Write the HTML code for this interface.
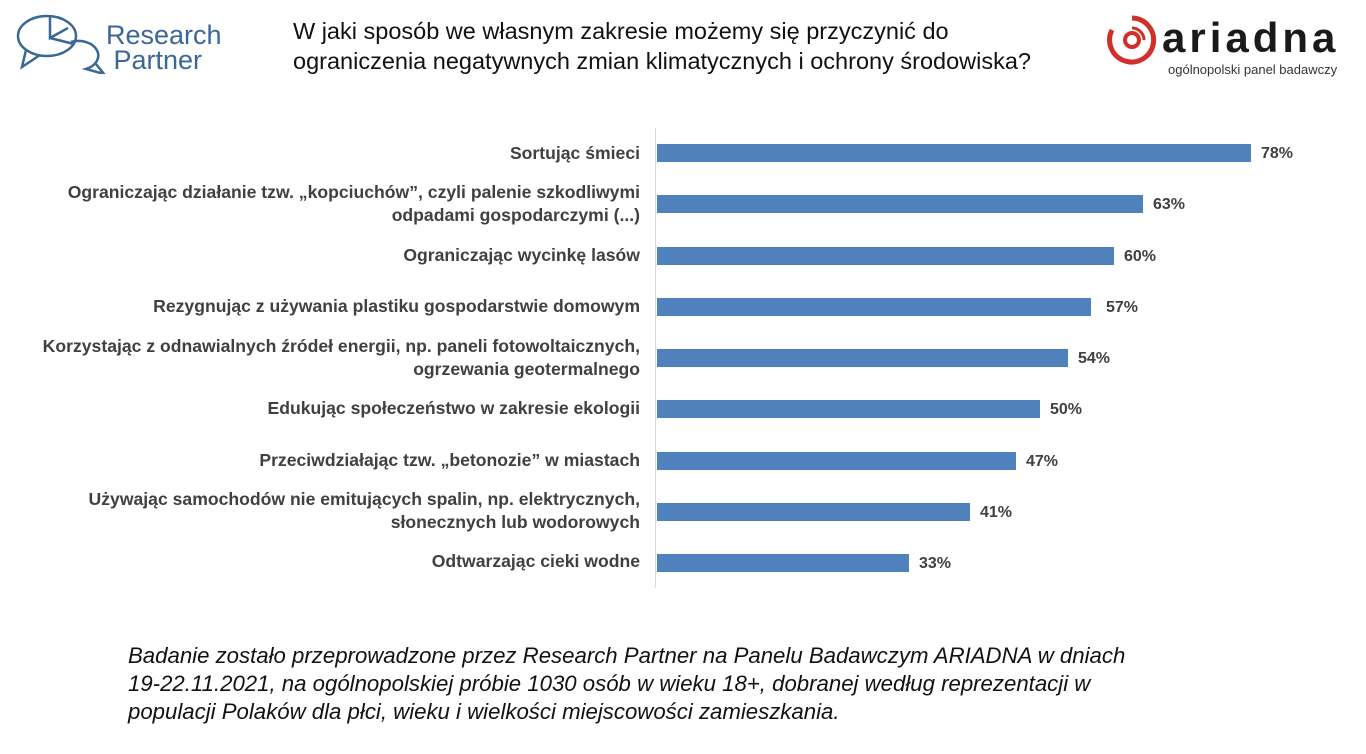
<!DOCTYPE html>
<html><head><meta charset="utf-8"><style>
body{margin:0;width:1366px;height:754px;background:#fff;position:relative;overflow:hidden;font-family:"Liberation Sans",sans-serif}
.a{position:absolute}
.lab{position:absolute;right:726px;text-align:right;font-weight:bold;font-size:17.6px;color:#404040;line-height:23px;white-space:nowrap}
.bar{position:absolute;left:657px;height:18px;background:#4f81bd}
.v{position:absolute;font-weight:bold;font-size:16px;color:#404040}
</style></head><body>
<svg class="a" style="left:16px;top:12px" width="90" height="62" viewBox="0 0 90 62" fill="none" stroke="#3a6796" stroke-width="2.5">
<ellipse cx="31" cy="24" rx="29" ry="20"/><path d="M10 38 L6 55 L24 43"/>
<path d="M34 4 L34 26 L52 16 M34 26 L58 32"/>
<path d="M55 30 A19 14 0 1 1 70 57 L88 62 L80 52"/>
</svg>
<div class="a" style="left:106px;top:23px;font-size:27px;color:#3a6796;line-height:25px">Research<br>&nbsp;Partner</div>
<div class="a" style="left:293px;top:16px;font-size:23.5px;color:#111;line-height:30px">W jaki sposób we własnym zakresie możemy się przyczynić do<br>ograniczenia negatywnych zmian klimatycznych i ochrony środowiska?</div>
<svg class="a" style="left:1106px;top:14px" width="52" height="52" viewBox="0 0 52 52" fill="none" stroke="#d1302a" stroke-width="5">
<path d="M26 4 A22 22 0 1 1 6 16"/><circle cx="26" cy="26" r="7" stroke-width="4"/><path d="M26 14 A12 12 0 0 1 38 26" stroke-width="3"/>
</svg>
<div class="a" style="left:1162px;top:14px;font-size:42px;font-weight:bold;color:#1a1a1a;letter-spacing:4px">ariadna</div>
<div class="a" style="left:1168px;top:62px;font-size:13px;color:#333">ogólnopolski panel badawczy</div>
<div class="a" style="left:655px;top:128px;width:1px;height:460px;background:#d9d9d9"></div>

<div class="lab" style="top:142px">Sortując śmieci</div>
<div class="lab" style="top:181px">Ograniczając działanie tzw. „kopciuchów”, czyli palenie szkodliwymi<br>odpadami gospodarczymi (...)</div>
<div class="lab" style="top:244px">Ograniczając wycinkę lasów</div>
<div class="lab" style="top:295px">Rezygnując z używania plastiku gospodarstwie domowym</div>
<div class="lab" style="top:335px">Korzystając z odnawialnych źródeł energii, np. paneli fotowoltaicznych,<br>ogrzewania geotermalnego</div>
<div class="lab" style="top:397px">Edukując społeczeństwo w zakresie ekologii</div>
<div class="lab" style="top:449px">Przeciwdziałając tzw. „betonozie” w miastach</div>
<div class="lab" style="top:488px">Używając samochodów nie emitujących spalin, np. elektrycznych,<br>słonecznych lub wodorowych</div>
<div class="lab" style="top:550px">Odtwarzając cieki wodne</div>

<div class="bar" style="top:144px;width:594px"></div><div class="v" style="left:1261px;top:145px">78%</div>
<div class="bar" style="top:195px;width:486px"></div><div class="v" style="left:1153px;top:196px">63%</div>
<div class="bar" style="top:247px;width:457px"></div><div class="v" style="left:1124px;top:248px">60%</div>
<div class="bar" style="top:298px;width:434px"></div><div class="v" style="left:1106px;top:299px">57%</div>
<div class="bar" style="top:349px;width:411px"></div><div class="v" style="left:1078px;top:350px">54%</div>
<div class="bar" style="top:400px;width:383px"></div><div class="v" style="left:1050px;top:401px">50%</div>
<div class="bar" style="top:452px;width:359px"></div><div class="v" style="left:1026px;top:453px">47%</div>
<div class="bar" style="top:503px;width:313px"></div><div class="v" style="left:980px;top:504px">41%</div>
<div class="bar" style="top:554px;width:252px"></div><div class="v" style="left:919px;top:555px">33%</div>

<div class="a" style="left:128px;top:642px;font-size:22.2px;font-style:italic;color:#111;line-height:28px">Badanie zostało przeprowadzone przez Research Partner na Panelu Badawczym ARIADNA w dniach<br>19-22.11.2021, na ogólnopolskiej próbie 1030 osób w wieku 18+, dobranej według reprezentacji w<br>populacji Polaków dla płci, wieku i wielkości miejscowości zamieszkania.</div>
</body></html>
